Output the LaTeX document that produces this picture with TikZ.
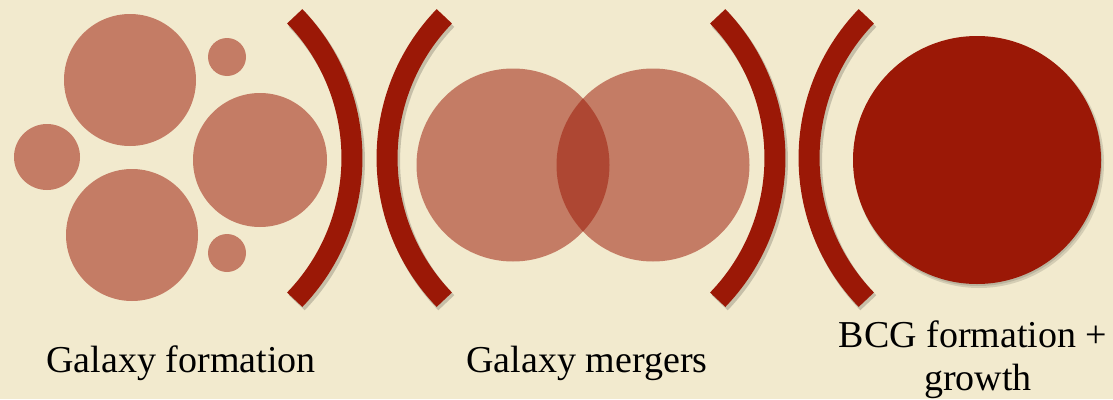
\documentclass[tikz,border=0pt]{standalone}
\usepackage{fontspec}
\setmainfont{Liberation Serif}
\definecolor{bgc}{RGB}{242,234,206}
\definecolor{dred}{RGB}{155,24,6}
\begin{document}
\begin{tikzpicture}[x=1pt,y=-1pt,
  galaxy/.style={fill=dred,fill opacity=0.52,draw=none},
  bracket/.style={draw=dred,line width=21pt,line cap=butt},
  brshadow/.style={draw=black,line width=22pt,draw opacity=0.18,line cap=butt},
  lbl/.style={font=\fontsize{38}{44}\selectfont,text=black,anchor=base,inner sep=0pt}]
\fill[bgc] (0,0) rectangle (1113,399);
\useasboundingbox (0,0) rectangle (1113,399);
% galaxy formation group
\fill[galaxy] (130,80) circle[radius=66];
\fill[galaxy] (227,57) circle[radius=19];
\fill[galaxy] (47,157) circle[radius=33];
\fill[galaxy] (260,160) circle[radius=67];
\fill[galaxy] (132,235) circle[radius=66];
\fill[galaxy] (227,253) circle[radius=19];
% mergers
\fill[galaxy] (513,165) circle[radius=96.5];
\fill[galaxy] (653,165) circle[radius=96.5];
% BCG
\fill[black,opacity=0.12] (979,163) circle[radius=125];
\fill[black,opacity=0.12] (978,162) circle[radius=124];
\fill[dred] (977,160) circle[radius=124];
% bracket shadows
\begin{scope}[shift={(2,3)}]
\draw[brshadow] (294.7,16.3) arc[start angle=-44,end angle=44,radius=204];
\draw[brshadow] (444.3,16.3) arc[start angle=224,end angle=136,radius=204];
\draw[brshadow] (717.7,16.3) arc[start angle=-44,end angle=44,radius=204];
\draw[brshadow] (866.3,16.3) arc[start angle=224,end angle=136,radius=204];
\end{scope}
% brackets
\draw[bracket] (294.7,16.3) arc[start angle=-44,end angle=44,radius=204];
\draw[bracket] (444.3,16.3) arc[start angle=224,end angle=136,radius=204];
\draw[bracket] (717.7,16.3) arc[start angle=-44,end angle=44,radius=204];
\draw[bracket] (866.3,16.3) arc[start angle=224,end angle=136,radius=204];
% labels
\node[lbl] (gf) at (181,372) {Galaxy formation};
\node[lbl] (gm) at (587,372) {Galaxy mergers};
\node[lbl] (bcg1) at (973,347) {BCG formation +};
\node[lbl] (bcg2) at (978,390) {growth};
\end{tikzpicture}
\end{document}
